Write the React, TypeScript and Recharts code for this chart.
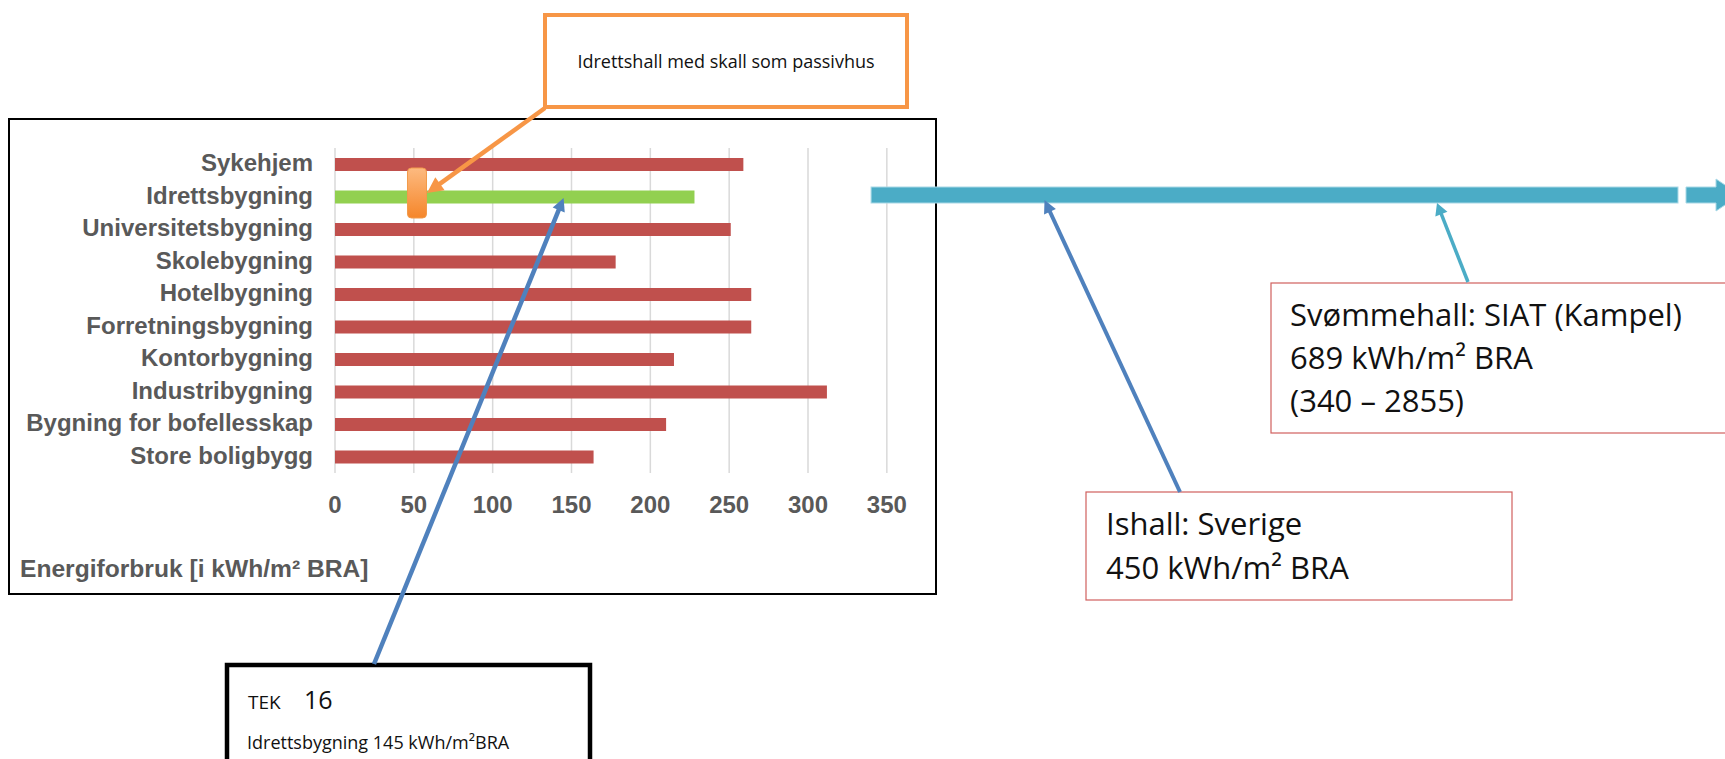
import React from 'react';
import { Bar, BarChart, CartesianGrid, Cell, XAxis, YAxis } from 'recharts';

// Energy use per building category (kWh/m² BRA)
const categories = [
    'Sykehjem',
    'Idrettsbygning',
    'Universitetsbygning',
    'Skolebygning',
    'Hotelbygning',
    'Forretningsbygning',
    'Kontorbygning',
    'Industribygning',
    'Bygning for bofellesskap',
    'Store boligbygg',
];
const energyUse = [259, 228, 251, 178, 264, 264, 215, 312, 210, 164];
const highlighted = 'Idrettsbygning';
const xTicks = [0, 50, 100, 150, 200, 250, 300, 350];

// annotation values
const tekValue = 145;
const ishallValue = 450;
const svommeValue = 689;
const svommeRange = [340, 2855];
const passivhusValue = 52;

const data = categories.map((name, i) => ({ name, value: energyUse[i] }));

const W = 1725;
const H = 759;
const PLOT_LEFT = 335;
const PLOT_TOP = 148;
const PLOT_BOTTOM = 473;
const X_AXIS_H = 40;
const X_MAX = 881.6;

// same linear mapping the chart uses for its x axis (plot runs to the right edge)
const xPx = (v: number) => PLOT_LEFT + (v * (W - PLOT_LEFT)) / X_MAX;

const GRAY = '#595959';
const LABEL_FONT = '"Liberation Sans", Arial, sans-serif';
const NOTE_FONT = '"Open Sans", "Noto Sans", sans-serif';

const CategoryTick = (props: any) => (
    <text
        x={props.x}
        y={props.y}
        dy="0.3em"
        textAnchor="end"
        fill={GRAY}
        fontSize={24}
        fontWeight="bold"
        fontFamily={LABEL_FONT}
    >
        {props.payload.value}
    </text>
);

const ValueTick = (props: any) => (
    <text
        x={props.x}
        y={props.y}
        dy={40}
        textAnchor="middle"
        fill={GRAY}
        fontSize={24}
        fontWeight="bold"
        fontFamily={LABEL_FONT}
    >
        {props.payload.value}
    </text>
);

// only draw grid lines at the labelled ticks (0..350)
const gridX = ({ xAxis }: any) =>
    xTicks.map((t) => (xAxis && typeof xAxis.scale === 'function' ? xAxis.scale(t) : xPx(t)));

function Arrow({ x1, y1, x2, y2, color, width, head = 14, half = 7 }: any) {
    const dx = x2 - x1;
    const dy = y2 - y1;
    const len = Math.sqrt(dx * dx + dy * dy);
    const ux = dx / len;
    const uy = dy / len;
    const bx = x2 - ux * head;
    const by = y2 - uy * head;
    const pts = [
        `${x2},${y2}`,
        `${bx - uy * half},${by + ux * half}`,
        `${bx + uy * half},${by - ux * half}`,
    ].join(' ');
    return (
        <g>
            <line x1={x1} y1={y1} x2={bx + ux * 2} y2={by + uy * 2} stroke={color} strokeWidth={width} />
            <polygon points={pts} fill={color} />
        </g>
    );
}

function Annotations() {
    const barY = 187;
    const tealStart = xPx(svommeRange[0]);
    return (
        <svg
            width={W}
            height={H}
            style={{ position: 'absolute', left: 0, top: 0, pointerEvents: 'none' }}
        >
            <defs>
                <linearGradient id="orangeMark" x1="0" y1="0" x2="0" y2="1">
                    <stop offset="0%" stopColor="#fdba80" />
                    <stop offset="100%" stopColor="#f5862a" />
                </linearGradient>
            </defs>

            {/* chart frame */}
            <rect x={9} y={119} width={927} height={475} fill="none" stroke="#000" strokeWidth={2} />

            {/* swimming hall range bar, runs off the chart */}
            <rect x={tealStart} y={barY} width={1678 - tealStart} height={16} fill="#4bacc6" stroke="#a8d8e6" strokeWidth={1} />
            <polygon
                points={`1686,${barY} 1716,${barY} 1716,179 1740,195 1716,211 1716,${barY + 16} 1686,${barY + 16}`}
                fill="#4bacc6"
                stroke="#a8d8e6"
                strokeWidth={1}
            />

            {/* passivhus marker on the sports hall bar */}
            <rect
                x={xPx(passivhusValue) - 9.5}
                y={168}
                width={19}
                height={50}
                rx={4}
                fill="url(#orangeMark)"
                stroke="#f29a4a"
                strokeWidth={1}
            />

            {/* orange callout */}
            <rect x={545} y={15} width={362} height={92} fill="#fff" stroke="#f79646" strokeWidth={4} />
            <text x={726} y={68} textAnchor="middle" fontSize={18} fontFamily={NOTE_FONT} fill="#111">
                Idrettshall med skall som passivhus
            </text>
            <Arrow x1={545} y1={108} x2={427} y2={193} color="#f79646" width={4.5} head={16} half={8} />

            {/* TEK 16 callout */}
            <rect x={227} y={665} width={363} height={140} fill="#fff" stroke="#000" strokeWidth={4.5} />
            <text x={248} y={709} fontFamily={NOTE_FONT} fill="#111">
                <tspan fontSize={19}>TEK</tspan>
                <tspan x={304} fontSize={25}>16</tspan>
            </text>
            <text x={247} y={749} fontSize={18} fontFamily={NOTE_FONT} fill="#111">
                Idrettsbygning {tekValue} kWh/m²BRA
            </text>
            <Arrow x1={374} y1={664} x2={xPx(tekValue)} y2={198} color="#4f81bd" width={4.5} head={13} half={6.5} />

            {/* Ishall callout */}
            <rect x={1086} y={492} width={426} height={108} fill="#fff" stroke="#d0605e" strokeWidth={1.2} />
            <text x={1106} y={535} fontSize={31} fontFamily={NOTE_FONT} fill="#111">
                Ishall: Sverige
            </text>
            <text x={1106} y={579} fontSize={31} fontFamily={NOTE_FONT} fill="#111">
                {ishallValue} kWh/m² BRA
            </text>
            <Arrow x1={1180} y1={492} x2={xPx(ishallValue)} y2={200} color="#4f81bd" width={4} head={13} half={6.5} />

            {/* Svømmehall callout */}
            <rect x={1271} y={283} width={500} height={150} fill="#fff" stroke="#d0605e" strokeWidth={1.2} />
            <text x={1290} y={326} fontSize={31} fontFamily={NOTE_FONT} fill="#111">
                Svømmehall: SIAT (Kampel)
            </text>
            <text x={1290} y={369} fontSize={31} fontFamily={NOTE_FONT} fill="#111">
                {svommeValue} kWh/m² BRA
            </text>
            <text x={1290} y={412} fontSize={31} fontFamily={NOTE_FONT} fill="#111">
                ({svommeRange[0]} – {svommeRange[1]})
            </text>
            <Arrow x1={1468} y1={282} x2={1437} y2={203} color="#4bacc6" width={3.5} head={12} half={6.5} />
        </svg>
    );
}

export default function App() {
    return (
        <div style={{ position: 'absolute', left: 0, top: 0, width: W, height: H, background: '#fff', overflow: 'hidden' }}>
            <BarChart
                width={W}
                height={H}
                data={data}
                layout="vertical"
                margin={{ top: PLOT_TOP, right: 0, bottom: H - PLOT_BOTTOM - X_AXIS_H, left: 0 }}
            >
                <CartesianGrid
                    horizontal={false}
                    stroke="#d9d9d9"
                    strokeWidth={1.5}
                    verticalCoordinatesGenerator={gridX}
                />
                <XAxis
                    type="number"
                    scale="linear"
                    domain={[0, X_MAX]}
                    allowDataOverflow
                    ticks={xTicks}
                    height={X_AXIS_H}
                    axisLine={false}
                    tickLine={false}
                    tickSize={0}
                    tickMargin={0}
                    tick={<ValueTick />}
                    interval={0}
                />
                <YAxis
                    type="category"
                    dataKey="name"
                    width={PLOT_LEFT}
                    axisLine={false}
                    tickLine={false}
                    tickSize={0}
                    tickMargin={22}
                    tick={<CategoryTick />}
                    interval={0}
                />
                <Bar dataKey="value" barSize={13} isAnimationActive={false}>
                    {data.map((d) => (
                        <Cell key={d.name} fill={d.name === highlighted ? '#92d050' : '#c0504d'} />
                    ))}
                </Bar>
            </BarChart>
            <div
                style={{
                    position: 'absolute',
                    left: 20,
                    top: 555,
                    fontFamily: LABEL_FONT,
                    fontWeight: 'bold',
                    fontSize: 24.6,
                    color: GRAY,
                    whiteSpace: 'nowrap',
                    lineHeight: '28px',
                }}
            >
                Energiforbruk [i kWh/m² BRA]
            </div>
            <Annotations />
        </div>
    );
}
